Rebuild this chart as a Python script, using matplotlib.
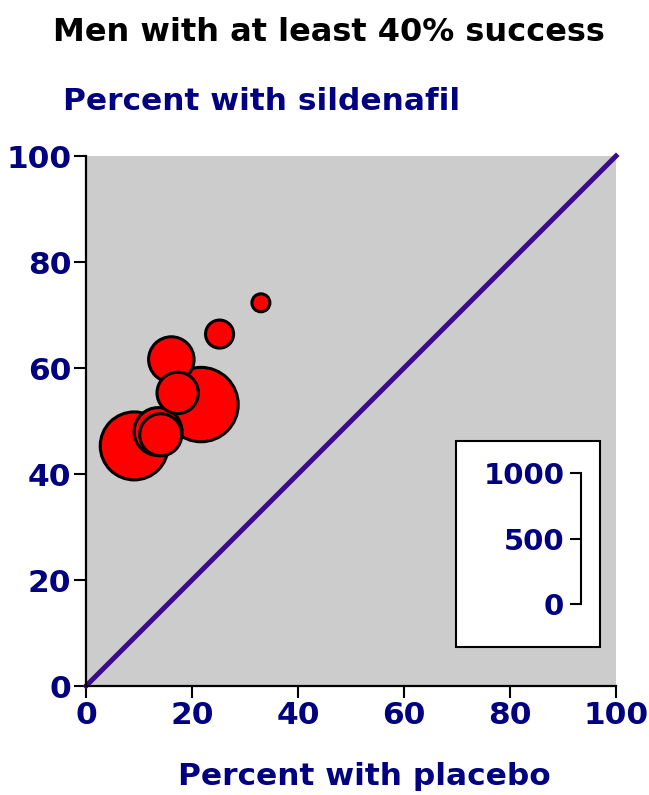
import matplotlib.pyplot as plt

# datos
placebo = [21.7, 9.1, 13.6, 16.1, 14.1, 17.3, 25.2, 33.0]
sildenafil = [53.1, 45.3, 48.0, 61.6, 47.4, 55.3, 66.4, 72.3]
n_hombres = [568, 519, 366, 347, 321, 316, 214, 137]
ticks_ejes = [0, 20, 40, 60, 80, 100]
ticks_leyenda = [0, 500, 1000]

azul = '#000080'
plt.rcParams['font.family'] = ['DejaVu Sans']
plt.rcParams['font.weight'] = 'bold'

fig = plt.figure(figsize=(6.49, 7.95), dpi=100)
W, H = 649, 795
ax = fig.add_axes([86 / W, 1 - 686 / H, 530 / W, 530 / H])
ax.set_facecolor('#cccccc')
ax.set_xlim(0, 100)
ax.set_ylim(0, 100)
for s in ['top', 'right']:
    ax.spines[s].set_visible(False)
for s in ['left', 'bottom']:
    ax.spines[s].set_linewidth(1.6)
ax.set_xticks(ticks_ejes)
ax.set_yticks(ticks_ejes)
ax.tick_params(direction='out', length=8.5, width=1.5, labelsize=22.5,
               labelcolor=azul, pad=2)
for lab in ax.get_xticklabels() + ax.get_yticklabels():
    lab.set_fontweight('bold')

# linea de igualdad
ax.plot([0, 100], [0, 100], color='#3c0a8c', lw=3.6, clip_on=False, zorder=2)

# escala de burbujas: 1000 hombres = 131 px de diametro
bracket_pt = 131 / 100 * 72
tam = [(n / 1000 * bracket_pt) ** 2 for n in n_hombres]
ax.scatter(placebo, sildenafil, s=tam, color='red', edgecolor='black',
           linewidth=2.2, zorder=3)

# caja de leyenda
ax.add_patch(plt.Rectangle((69.8, 7.4), 27.2, 38.9, facecolor='white',
                           edgecolor='black', lw=1.5, zorder=4))
lax = fig.add_axes([581 / W, 1 - 604 / H, 0.0001, 131 / H])
lax.set_ylim(0, 1000)
lax.patch.set_visible(False)
for s in ['top', 'right', 'bottom']:
    lax.spines[s].set_visible(False)
lax.spines['left'].set_linewidth(1.5)
lax.set_xticks([])
lax.set_yticks(ticks_leyenda)
lax.tick_params(direction='out', length=8, width=1.5, labelsize=21,
                labelcolor=azul, pad=4)
for lab in lax.get_yticklabels():
    lab.set_fontweight('bold')

fig.text(329 / W, 1 - 41 / H, 'Men with at least 40% success', ha='center',
         va='baseline', fontsize=23, fontweight='bold', color='black')
fig.text(63 / W, 1 - 110 / H, 'Percent with sildenafil', ha='left',
         va='baseline', fontsize=22.5, fontweight='bold', color=azul)
fig.text(364 / W, 1 - 785 / H, 'Percent with placebo', ha='center',
         va='baseline', fontsize=22.5, fontweight='bold', color=azul)

fig.savefig('out.png', dpi=100)
